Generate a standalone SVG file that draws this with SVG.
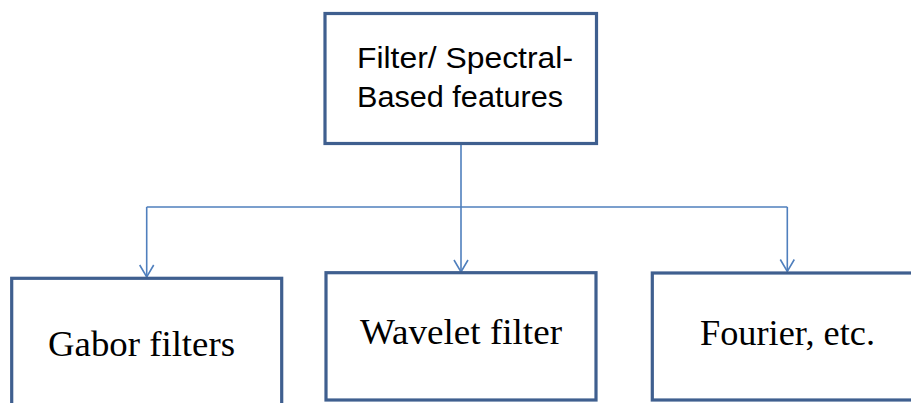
<svg xmlns="http://www.w3.org/2000/svg" width="911" height="403" viewBox="0 0 911 403">
<style>
.box{fill:#ffffff;stroke:#3f5f8f;stroke-width:3.2}
.conn{fill:none;stroke:#4f7fbd;stroke-width:1.6}
.sans{font-family:"Liberation Sans","Open Sans",Arial,sans-serif;font-size:30px;fill:#000}
.serif{font-family:"Liberation Serif","DejaVu Serif",serif;font-size:35px;fill:#000}
</style>
<rect width="911" height="403" fill="#ffffff"/>
<g id="connectors">
<path class="conn" d="M461,143 V272"/>
<path class="conn" d="M146.7,207 H787.3"/>
<path class="conn" d="M146.7,207 V277"/>
<path class="conn" d="M787.3,207 V271.5"/>
<path class="conn" d="M139.7,265 L146.7,277 L153.7,265"/>
<path class="conn" d="M454,260 L461,272 L468,260"/>
<path class="conn" d="M780.3,259.5 L787.3,271.5 L794.3,259.5"/>
</g>
<g id="node-top">
<rect class="box" x="325" y="13.5" width="271.5" height="130"/>
<text class="sans" x="357" y="68" textLength="216" lengthAdjust="spacingAndGlyphs">Filter/ Spectral-</text>
<text class="sans" x="357" y="107" textLength="206" lengthAdjust="spacingAndGlyphs">Based features</text>
</g>
<g id="node-gabor">
<rect class="box" x="11.7" y="278.3" width="270" height="140"/>
<text class="serif" x="48" y="356" textLength="187" lengthAdjust="spacingAndGlyphs">Gabor filters</text>
</g>
<g id="node-wavelet">
<rect class="box" x="326" y="272.7" width="270" height="127.3"/>
<text class="serif" x="360" y="344.3" textLength="202" lengthAdjust="spacingAndGlyphs">Wavelet filter</text>
</g>
<g id="node-fourier">
<rect class="box" x="652.3" y="273" width="280" height="127"/>
<text class="serif" x="700" y="345" textLength="175" lengthAdjust="spacingAndGlyphs">Fourier, etc.</text>
</g>
</svg>
